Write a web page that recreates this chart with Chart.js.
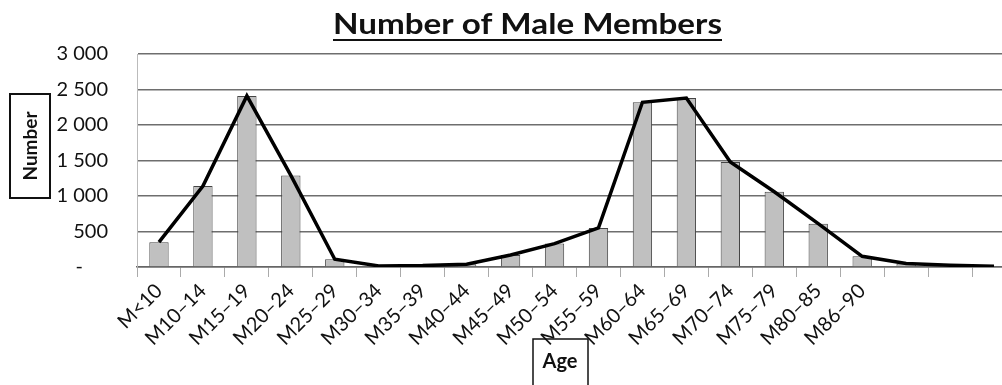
<!DOCTYPE html>
<html>
<head>
<meta charset="utf-8">
<script src="https://cdn.jsdelivr.net/npm/chart.js@4"></script>
<style>
  html, body { margin: 0; padding: 0; background: #fff; overflow: hidden; }
  #wrap { width: 1016px; height: 385px; }
</style>
</head>
<body>
<div id="wrap"><canvas id="chart" width="1016" height="385"></canvas></div>
<script>
const ageGroups = ['M<10', 'M10–14', 'M15–19', 'M20–24', 'M25–29', 'M30–34', 'M35–39',
  'M40–44', 'M45–49', 'M50–54', 'M55–59', 'M60–64', 'M65–69', 'M70–74', 'M75–79',
  'M80–85', 'M86–90', '', '', ''];
const maleMembers = [350, 1140, 2410, 1290, 110, 15, 20, 40, 170, 330, 550, 2320, 2380,
  1480, 1060, 610, 150, 50, 25, 10];
const yTicks = [0, 500, 1000, 1500, 2000, 2500, 3000];

const FONT = 'Lato, "Open Sans", sans-serif';

function fmt(v) {
  if (v === 0) return '-\u2003\u2002';
  return String(v).replace(/\B(?=(\d{3})+(?!\d))/g, ' ');
}

// title, underline and the two boxed axis captions
const captions = {
  id: 'captions',
  afterDraw(chart) {
    const ctx = chart.ctx;
    ctx.save();
    ctx.fillStyle = '#111';
    ctx.strokeStyle = '#111';

    // main title, stretched to its width and underlined
    const title = 'Number of Male Members';
    ctx.font = 'bold 28px ' + FONT;
    const w = ctx.measureText(title).width;
    const tw = 389;
    ctx.save();
    ctx.translate(333, 34);
    ctx.scale(tw / w, 1);
    ctx.textBaseline = 'alphabetic';
    ctx.fillText(title, 0, 0);
    ctx.restore();
    ctx.lineWidth = 2;
    ctx.beginPath();
    ctx.moveTo(333, 40);
    ctx.lineTo(333 + tw, 40);
    ctx.stroke();

    // y caption
    ctx.lineWidth = 2;
    ctx.strokeRect(10, 94, 40, 104);
    ctx.save();
    ctx.translate(31, 146);
    ctx.rotate(-Math.PI / 2);
    ctx.font = 'bold 19px ' + FONT;
    ctx.textAlign = 'center';
    ctx.textBaseline = 'middle';
    ctx.fillText('Number', 0, 0);
    ctx.restore();

    // x caption
    ctx.lineWidth = 1.5;
    ctx.strokeRect(533, 339, 55, 50);
    ctx.font = 'bold 20px ' + FONT;
    ctx.textAlign = 'center';
    ctx.textBaseline = 'middle';
    ctx.fillText('Age', 560, 362);
    ctx.restore();
  }
};

new Chart(document.getElementById('chart').getContext('2d'), {
  data: {
    labels: ageGroups,
    datasets: [
      {
        type: 'line',
        data: maleMembers,
        borderColor: '#000',
        borderWidth: 3.5,
        pointRadius: 0,
        tension: 0,
        order: 0
      },
      {
        type: 'bar',
        data: maleMembers,
        backgroundColor: '#c0c0c0',
        borderColor: '#444',
        borderWidth: 1,
        categoryPercentage: 1,
        barPercentage: 0.44,
        order: 1
      }
    ]
  },
  options: {
    responsive: false,
    animation: false,
    layout: { padding: { top: 54, right: 0, bottom: 0, left: 0 } },
    plugins: {
      legend: { display: false },
      tooltip: { enabled: false }
    },
    scales: {
      x: {
        offset: true,
        grid: { offset: true, drawOnChartArea: false, drawTicks: true, tickLength: 10, color: '#aaa' },
        border: { color: '#666', width: 1.5 },
        ticks: {
          autoSkip: false,
          minRotation: 45,
          maxRotation: 45,
          padding: 2,
          color: '#111',
          font: { family: FONT, size: 20 }
        },
        afterFit(scale) { scale.height = 118; }
      },
      y: {
        min: 0,
        max: 3000,
        afterBuildTicks(scale) { scale.ticks = yTicks.map(v => ({ value: v })); },
        grid: { color: '#6e6e6e', lineWidth: 1.5, drawTicks: false },
        border: { color: '#bbb', width: 1 },
        ticks: {
          padding: 29,
          color: '#111',
          font: { family: FONT, size: 20 },
          callback: v => fmt(v)
        },
        afterFit(scale) { scale.width = 137; }
      }
    }
  },
  plugins: [captions]
});
</script>
</body>
</html>
